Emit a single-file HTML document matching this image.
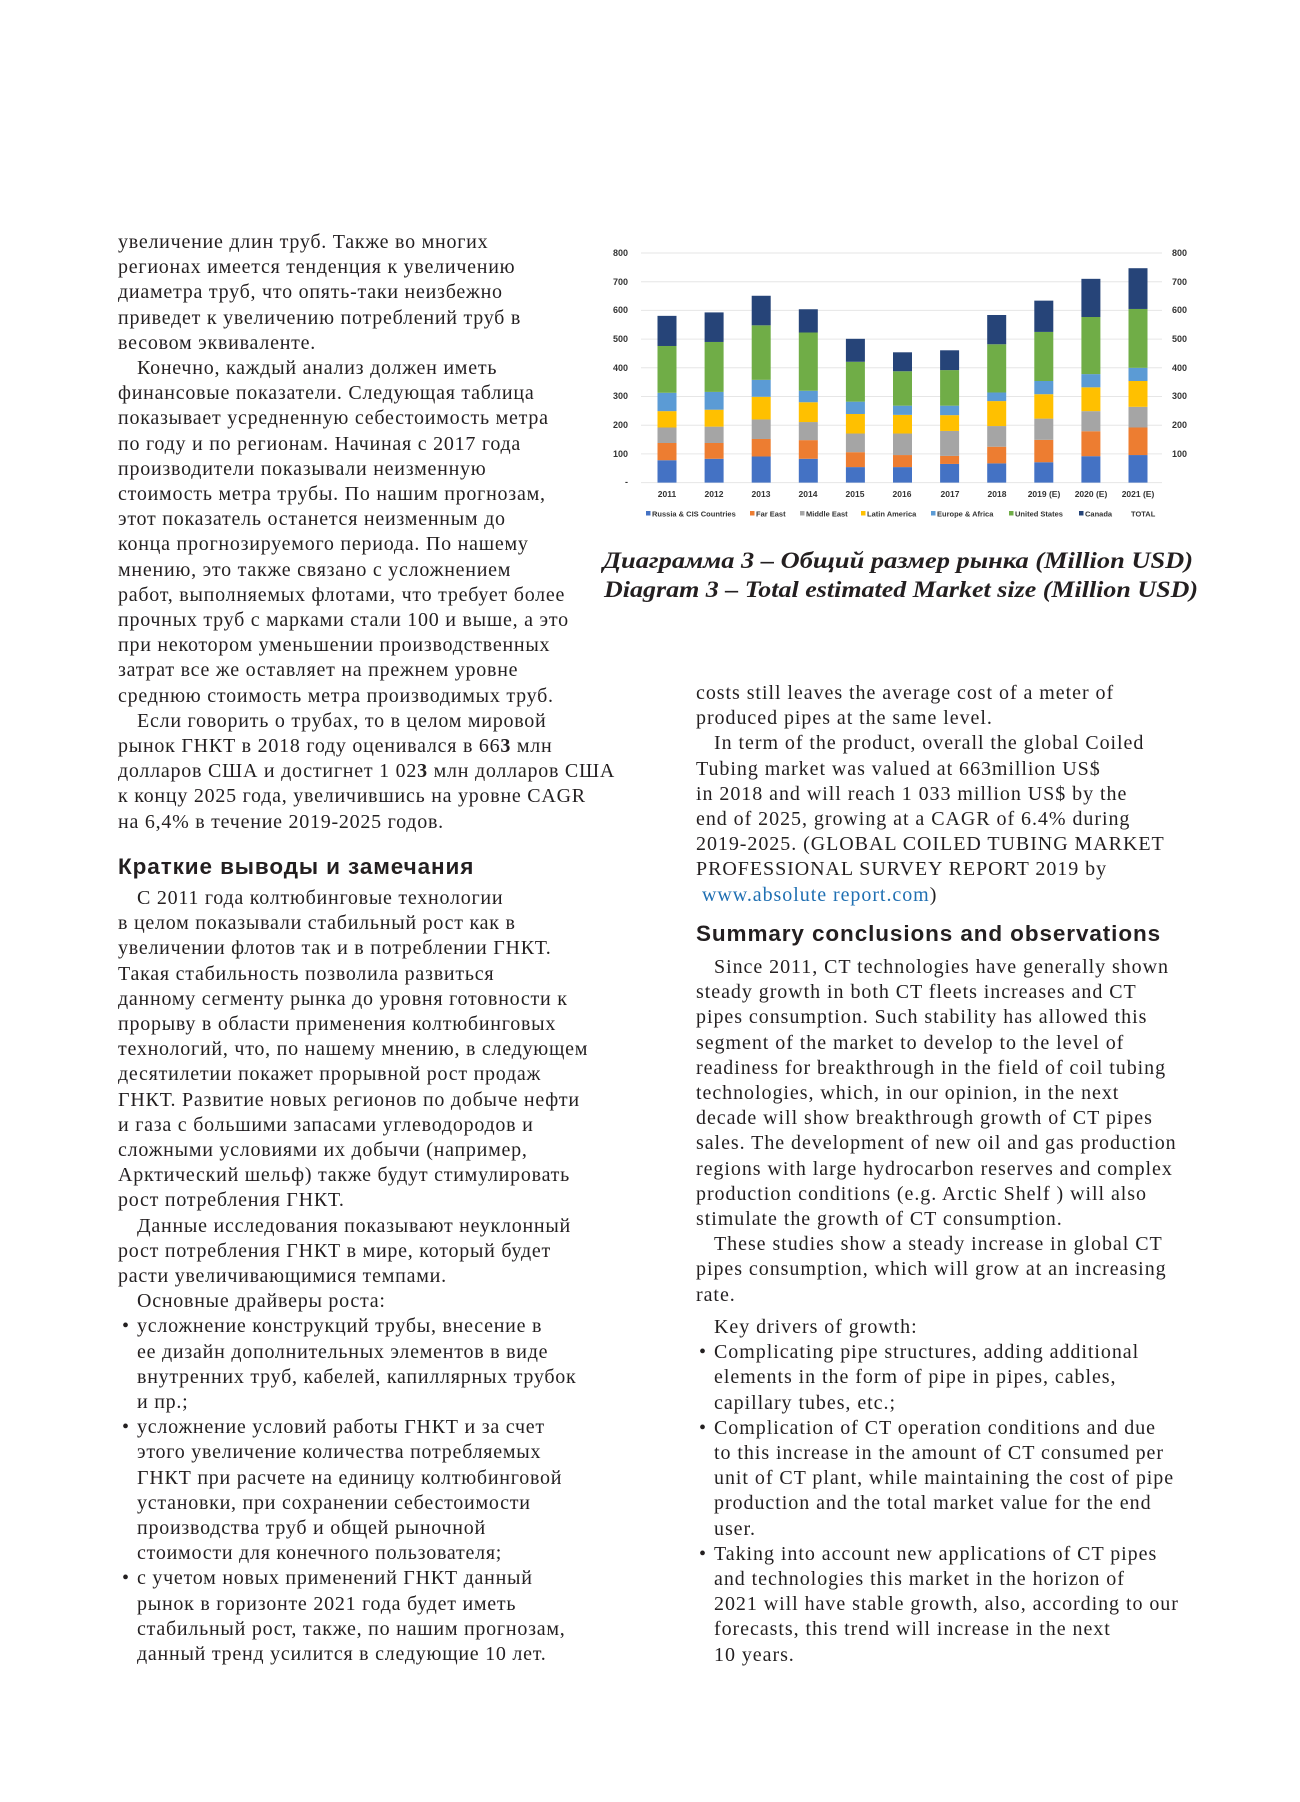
<!DOCTYPE html>
<html><head><meta charset="utf-8">
<style>
body{margin:0;background:#fff;}
#p{position:relative;width:1300px;height:1802px;overflow:hidden;background:#fff;color:#231f20;}
.b{position:absolute;font-family:"Liberation Serif",serif;font-size:20px;line-height:25.2px;white-space:nowrap;letter-spacing:0.75px;}
.b.R{letter-spacing:0.95px;}
.b div{position:relative;}
.L .i{padding-left:19px}
.L .u{padding-left:19px}
.L .u::before{content:"•";position:absolute;left:4px;}
.L .c{padding-left:19px}
.R .i{padding-left:18px}
.R .u{padding-left:18px}
.R .u::before{content:"•";position:absolute;left:3px;}
.R .c{padding-left:18px}
.h{position:absolute;font-family:"Liberation Sans",sans-serif;font-weight:bold;font-size:22.5px;line-height:28px;white-space:nowrap;color:#231f20;letter-spacing:0.9px;}
a{color:#1f6fb2;text-decoration:none}
</style></head><body><div id="p">

<svg style="position:absolute;left:0;top:0" width="1300" height="640" xmlns="http://www.w3.org/2000/svg">
<g stroke="#e6e6e6" stroke-width="1">
<line x1="641" x2="1162" y1="253" y2="253"/><line x1="641" x2="1162" y1="281.7" y2="281.7"/><line x1="641" x2="1162" y1="310.4" y2="310.4"/><line x1="641" x2="1162" y1="339.1" y2="339.1"/><line x1="641" x2="1162" y1="367.8" y2="367.8"/><line x1="641" x2="1162" y1="396.5" y2="396.5"/><line x1="641" x2="1162" y1="425.2" y2="425.2"/><line x1="641" x2="1162" y1="453.9" y2="453.9"/><line x1="641" x2="1162" y1="482.6" y2="482.6"/>
</g>
<g font-family="Liberation Sans,sans-serif" font-weight="bold" font-size="9" fill="#333">
<g text-anchor="end"><text x="628" y="256">800</text><text x="628" y="285">700</text><text x="628" y="313">600</text><text x="628" y="342">500</text><text x="628" y="371">400</text><text x="628" y="399">300</text><text x="628" y="428">200</text><text x="628" y="457">100</text><text x="628" y="485">-</text></g>
<g><text x="1172" y="256">800</text><text x="1172" y="285">700</text><text x="1172" y="313">600</text><text x="1172" y="342">500</text><text x="1172" y="371">400</text><text x="1172" y="399">300</text><text x="1172" y="428">200</text><text x="1172" y="457">100</text></g>
</g>
<g id="bars"></g>
<g font-family="Liberation Sans,sans-serif" font-weight="bold" font-size="8.5" fill="#333" text-anchor="middle">
<text x="667" y="497">2011</text><text x="714" y="497">2012</text><text x="761" y="497">2013</text><text x="808" y="497">2014</text><text x="855" y="497">2015</text><text x="902" y="497">2016</text><text x="950" y="497">2017</text><text x="997" y="497">2018</text><text x="1044" y="497">2019 (E)</text><text x="1091" y="497">2020 (E)</text><text x="1138" y="497">2021 (E)</text>
</g>
<g font-family="Liberation Sans,sans-serif" font-weight="bold" font-size="7.5" fill="#333">
<rect x="646" y="511" width="4.5" height="4.5" fill="#4472C4"/><text x="652" y="516.5">Russia &amp; CIS Countries</text>
<rect x="750" y="511" width="4.5" height="4.5" fill="#ED7D31"/><text x="756" y="516.5">Far East</text>
<rect x="800" y="511" width="4.5" height="4.5" fill="#A5A5A5"/><text x="806" y="516.5">Middle East</text>
<rect x="861" y="511" width="4.5" height="4.5" fill="#FFC000"/><text x="867" y="516.5">Latin America</text>
<rect x="931" y="511" width="4.5" height="4.5" fill="#5B9BD5"/><text x="937" y="516.5">Europe &amp; Africa</text>
<rect x="1009" y="511" width="4.5" height="4.5" fill="#70AD47"/><text x="1015" y="516.5">United States</text>
<rect x="1079" y="511" width="4.5" height="4.5" fill="#264478"/><text x="1085" y="516.5">Canada</text>
<text x="1131" y="516.5">TOTAL</text>
</g>
<g font-family="Liberation Serif,serif" font-weight="bold" font-style="italic" font-size="23" fill="#231f20">
<text x="603" y="568" textLength="590" lengthAdjust="spacingAndGlyphs">Диаграмма 3 – Общий размер рынка (Million USD)</text>
<text x="604" y="597" textLength="594" lengthAdjust="spacingAndGlyphs">Diagram 3 – Total estimated Market size (Million USD)</text>
</g>
</svg>
<script>
(function(){
var d=[[78,138,192,249,313,476,581],[83,138,195,254,316,490,593],[91,152,220,299,358,548,651],[83,148,211,280,320,523,604],[54,106,171,239,282,421,501],[54,96,171,236,268,388,454],[65,93,180,235,268,392,461],[67,125,197,284,314,482,584],[71,149,223,308,354,525,634],[92,179,249,332,378,577,710],[96,192,264,354,400,605,747]];
var c=["#4472C4","#ED7D31","#A5A5A5","#FFC000","#5B9BD5","#70AD47","#264478"];
var g=document.getElementById("bars"),s="";
function y(v){return 482.6-v*0.287;}
for(var i=0;i<11;i++){var cx=667+i*47.1,p=0;for(var j=0;j<7;j++){var v=d[i][j];s+='<rect x="'+(cx-9.5)+'" y="'+y(v)+'" width="19" height="'+(y(p)-y(v))+'" fill="'+c[j]+'"/>';p=v;}}
g.innerHTML=s;})();
</script>

<div class="b L" style="left:118px;top:230px">
<div>увеличение длин труб. Также во многих</div>
<div>регионах имеется тенденция к увеличению</div>
<div>диаметра труб, что опять-таки неизбежно</div>
<div>приведет к увеличению потреблений труб в</div>
<div>весовом эквиваленте.</div>
<div class="i">Конечно, каждый анализ должен иметь</div>
<div>финансовые показатели. Следующая таблица</div>
<div>показывает усредненную себестоимость метра</div>
<div>по году и по регионам. Начиная с 2017 года</div>
<div>производители показывали неизменную</div>
<div>стоимость метра трубы. По нашим прогнозам,</div>
<div>этот показатель останется неизменным до</div>
<div>конца прогнозируемого периода. По нашему</div>
<div>мнению, это также связано с усложнением</div>
<div>работ, выполняемых флотами, что требует более</div>
<div>прочных труб с марками стали 100 и выше, а это</div>
<div>при некотором уменьшении производственных</div>
<div>затрат все же оставляет на прежнем уровне</div>
<div>среднюю стоимость метра производимых труб.</div>
<div class="i">Если говорить о трубах, то в целом мировой</div>
<div>рынок ГНКТ в 2018 году оценивался в 66<b>3</b> млн</div>
<div>долларов США и достигнет 1 02<b>3</b> млн долларов США</div>
<div>к концу 2025 года, увеличившись на уровне CAGR</div>
<div>на 6,4% в течение 2019-2025 годов.</div>
</div>

<div class="h" style="left:118px;top:853px">Краткие выводы и замечания</div>

<div class="b L" style="left:118px;top:886px">
<div class="i">С 2011 года колтюбинговые технологии</div>
<div>в целом показывали стабильный рост как в</div>
<div>увеличении флотов так и в потреблении ГНКТ.</div>
<div>Такая стабильность позволила развиться</div>
<div>данному сегменту рынка до уровня готовности к</div>
<div>прорыву в области применения колтюбинговых</div>
<div>технологий, что, по нашему мнению, в следующем</div>
<div>десятилетии покажет прорывной рост продаж</div>
<div>ГНКТ. Развитие новых регионов по добыче нефти</div>
<div>и газа с большими запасами углеводородов и</div>
<div>сложными условиями их добычи (например,</div>
<div>Арктический шельф) также будут стимулировать</div>
<div>рост потребления ГНКТ.</div>
<div class="i">Данные исследования показывают неуклонный</div>
<div>рост потребления ГНКТ в мире, который будет</div>
<div>расти увеличивающимися темпами.</div>
<div class="i">Основные драйверы роста:</div>
<div class="u">усложнение конструкций трубы, внесение в</div>
<div class="c">ее дизайн дополнительных элементов в виде</div>
<div class="c">внутренних труб, кабелей, капиллярных трубок</div>
<div class="c">и пр.;</div>
<div class="u">усложнение условий работы ГНКТ и за счет</div>
<div class="c">этого увеличение количества потребляемых</div>
<div class="c">ГНКТ при расчете на единицу колтюбинговой</div>
<div class="c">установки, при сохранении себестоимости</div>
<div class="c">производства труб и общей рыночной</div>
<div class="c">стоимости для конечного пользователя;</div>
<div class="u"> с учетом новых применений ГНКТ данный</div>
<div class="c">рынок в горизонте 2021 года будет иметь</div>
<div class="c">стабильный рост, также, по нашим прогнозам,</div>
<div class="c">данный тренд усилится в следующие 10 лет.</div>
</div>

<div class="b R" style="left:696px;top:681px">
<div>costs still leaves the average cost of a meter of</div>
<div>produced pipes at the same level.</div>
<div class="i">In term of the product, overall the global Coiled</div>
<div>Tubing market was valued at 663million US$</div>
<div>in 2018 and will reach 1 033 million US$ by the</div>
<div>end of 2025, growing at a CAGR of 6.4% during</div>
<div>2019-2025. (GLOBAL COILED TUBING MARKET</div>
<div>PROFESSIONAL SURVEY REPORT 2019 by</div>
<div>&nbsp;<a>www.absolute report.com</a>)</div>
</div>

<div class="h" style="left:696px;top:920px">Summary conclusions and observations</div>

<div class="b R" style="left:696px;top:955px">
<div class="i">Since 2011, CT technologies have generally shown</div>
<div>steady growth in both CT fleets increases and CT</div>
<div>pipes consumption. Such stability has allowed this</div>
<div>segment of the market to develop to the level of</div>
<div>readiness for breakthrough in the field of coil tubing</div>
<div>technologies, which, in our opinion, in the next</div>
<div>decade will show breakthrough growth of CT pipes</div>
<div>sales. The development of new oil and gas production</div>
<div>regions with large hydrocarbon reserves and complex</div>
<div>production conditions (e.g. Arctic Shelf ) will also</div>
<div>stimulate the growth of CT consumption.</div>
<div class="i">These studies show a steady increase in global CT</div>
<div>pipes consumption, which will grow at an increasing</div>
<div>rate.</div>
</div>

<div class="b R" style="left:696px;top:1315px">
<div class="i">Key drivers of growth:</div>
<div class="u">Complicating pipe structures, adding additional</div>
<div class="c">elements in the form of pipe in pipes, cables,</div>
<div class="c">capillary tubes, etc.;</div>
<div class="u">Complication of CT operation conditions and due</div>
<div class="c">to this increase in the amount of CT consumed per</div>
<div class="c">unit of CT plant, while maintaining the cost of pipe</div>
<div class="c">production and the total market value for the end</div>
<div class="c">user.</div>
<div class="u">Taking into account new applications of CT pipes</div>
<div class="c">and technologies this market in the horizon of</div>
<div class="c">2021 will have stable growth, also, according to our</div>
<div class="c">forecasts, this trend will increase in the next</div>
<div class="c">10 years.</div>
</div>

</div></body></html>
